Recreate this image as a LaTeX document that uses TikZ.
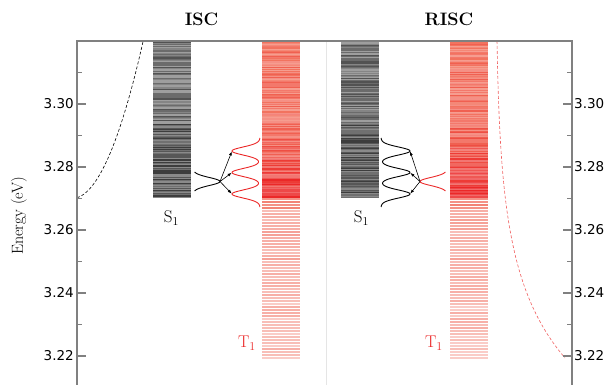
\documentclass[tikz,border=0pt]{standalone}
\usepackage{fontspec}
\newfontfamily\tickfont{DejaVu Sans}
\usetikzlibrary{arrows.meta}
\definecolor{tred}{RGB}{235,40,40}
\definecolor{tsalmon}{RGB}{242,115,95}
\definecolor{tpink}{RGB}{240,110,95}
\definecolor{spine}{RGB}{128,128,128}
\tikzset{
  axtick/.style={draw=spine, line width=1.1pt},
  ticklabel/.style={font=\tickfont\fontsize{13.5}{14}\selectfont, inner sep=0.5pt},
  statelabel/.style={font=\fontsize{17}{19}\selectfont},
  gauss/.style={line width=0.9pt},
  hop/.style={-{Latex[length=4pt,width=3pt]}, line width=0.6pt, shorten >=0.5pt},
}
\begin{document}
\begin{tikzpicture}[x=1pt,y=-1pt]
    \useasboundingbox (0,0) rectangle (606,385);
    \pgfmathsetseed{11}

    \foreach \bx in {153,341}{
        \foreach \r in {0,...,156}{
            \pgfmathtruncatemacro{\g}{38+10*min(3,floor(4*rnd))+8*floor(1.9*\r/157)}
            \fill[black!\g] (\bx,41+\r) rectangle (\bx+38,42+\r);
        }
    }

    \foreach \bx in {262,450}{
        \foreach \r in {0,...,156}{
            \pgfmathtruncatemacro{\q}{25*min(4,floor(4.6*(\r/157)^3+1.6*rnd))}
            \pgfmathtruncatemacro{\p}{70+15*min(2,floor(3*rnd))}
            \fill[tred!\q!tsalmon!\p!white] (\bx,41+\r) rectangle (\bx+38,42+\r);
        }
        \foreach \r in {0,...,53}{
            \pgfmathtruncatemacro{\w}{\r<4 ? 75+10*min(1,floor(2*rnd)) : 35+10*min(3,floor(2*rnd+2*(1-\r/53)))}
            \fill[tpink!\w!white] (\bx,198+3*\r) rectangle (\bx+38,200+3*\r);
        }
    }

    \draw[dashed, line width=0.6pt, dash pattern=on 3pt off 2pt] plot[domain=77:143, samples=60] (\x, {198.5-0.0311*(\x-72)^2});
    \draw[tred!75, line width=0.6pt, dash pattern=on 3pt off 2pt] plot[variable=\t, domain=41:358, samples=80] ({495.6+69.4*exp((\t-358)/81.4)}, \t);

    \draw[black!10, line width=1pt] (326,41) -- (326,385);
    \draw[spine, line width=1.2pt] (77,385) -- (77,41) -- (572,41) -- (572,385);
    \foreach \e/\lab in {104/3.30, 167/3.28, 230/3.26, 293/3.24, 356/3.22}{
        \draw[axtick] (76,\e) -- (86,\e);
        \draw[axtick] (563,\e) -- (573,\e);
        \node[ticklabel, anchor=east] (yl\e) at (74.5,\e) {\lab};
        \node[ticklabel, anchor=west] (yr\e) at (573.5,\e) {\lab};
    }
    \foreach \m in {72.5,135.5,198.5,261.5,324.5}{
        \draw[axtick] (77,\m) -- (82,\m);
        \draw[axtick] (567,\m) -- (572,\m);
    }

    \node[font=\bfseries\fontsize{18}{20}\selectfont] (isc) at (201.5,19.5) {ISC};
    \node[font=\bfseries\fontsize{18}{20}\selectfont] (risc) at (449,19.5) {RISC};
    \node[rotate=90, font=\fontsize{16}{18}\selectfont] (elab) at (19,216) {Energy (eV)};
    \node[statelabel] (s1a) at (171.5,218) {S$_1$};
    \node[statelabel] (s1b) at (361.5,218) {S$_1$};
    \node[statelabel, text=tred] (t1a) at (247,343) {T$_1$};
    \node[statelabel, text=tred] (t1b) at (434,343) {T$_1$};

    \draw[gauss] plot[variable=\t, domain=172:191, samples=60] ({193+27*exp(-((\t-181.5)^2)/32)}, \t);
    \draw[gauss, tred] plot[variable=\t, domain=138:207, samples=150] ({260-28*(exp(-((\t-151)^2)/32)+exp(-((\t-172.5)^2)/32)+exp(-((\t-194)^2)/32))}, \t);
    \draw[gauss] plot[variable=\t, domain=138:207, samples=150] ({381+29*(exp(-((\t-151)^2)/32)+exp(-((\t-172.5)^2)/32)+exp(-((\t-194)^2)/32))}, \t);
    \draw[gauss, tred] plot[variable=\t, domain=172:191, samples=60] ({447-27*exp(-((\t-181.5)^2)/32)}, \t);

    \coordinate (isc s) at (220,181.5);
    \coordinate (isc t1) at (232,151);
    \coordinate (isc t2) at (232,172.5);
    \coordinate (isc t3) at (232,194);
    \coordinate (risc t) at (420,181.5);
    \coordinate (risc s1) at (410,151);
    \coordinate (risc s2) at (410,172.5);
    \coordinate (risc s3) at (410,194);
    \foreach \k in {1,2,3}{
        \draw[hop] (isc s) -- (isc t\k);
        \draw[hop] (risc t) -- (risc s\k);
    }
\end{tikzpicture}
\end{document}
